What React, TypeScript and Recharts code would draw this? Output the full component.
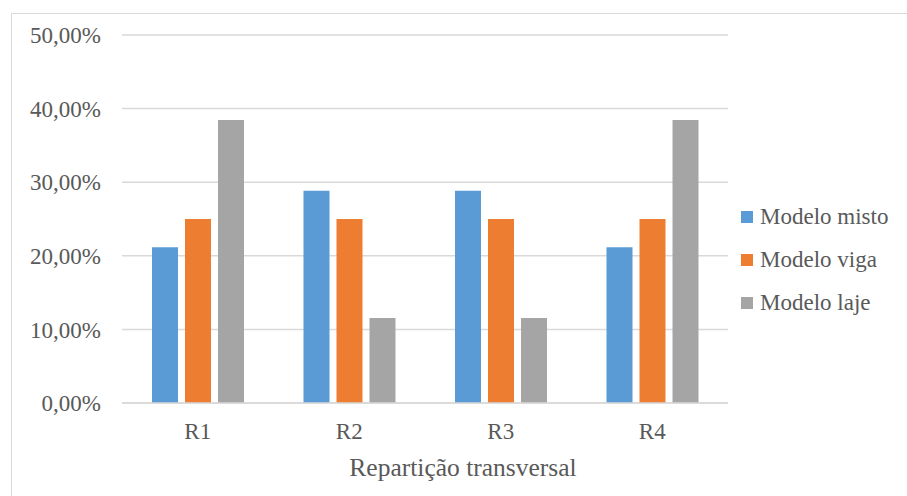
import { BarChart, Bar, XAxis, YAxis, CartesianGrid, Legend } from "recharts";

const categories = ["R1", "R2", "R3", "R4"];
const modeloMisto = [0.2115, 0.2885, 0.2885, 0.2115];
const modeloViga = [0.25, 0.25, 0.25, 0.25];
const modeloLaje = [0.3846, 0.1154, 0.1154, 0.3846];
const yTicks = [0, 0.1, 0.2, 0.3, 0.4, 0.5];

const series = [
  { key: "misto", name: "Modelo misto", color: "#5B9BD5" },
  { key: "viga", name: "Modelo viga", color: "#ED7D31" },
  { key: "laje", name: "Modelo laje", color: "#A5A5A5" },
];

const data = categories.map((c, i) => ({
  cat: c,
  misto: modeloMisto[i],
  viga: modeloViga[i],
  laje: modeloLaje[i],
}));

const font = "'Liberation Serif', 'Times New Roman', serif";
const textColor = "#595959";

const fmt = (v: number) => (v * 100).toFixed(2).replace(".", ",") + "%";

function LegendBox() {
  return (
    <div style={{ fontFamily: font, color: textColor, fontSize: 23, lineHeight: 1 }}>
      {series.map((s) => (
        <div key={s.key} style={{ display: "flex", alignItems: "center", height: 43 }}>
          <span style={{ width: 12, height: 12, background: s.color, marginRight: 7, display: "inline-block" }} />
          <span>{s.name}</span>
        </div>
      ))}
    </div>
  );
}

export default function App() {
  return (
    <div style={{ position: "absolute", left: 0, top: 0, width: 907, height: 496, overflow: "hidden", background: "#fff", fontFamily: font }}>
      <div
        style={{
          position: "absolute",
          left: 11,
          top: 13,
          width: 1000,
          height: 600,
          border: "1px solid #D9D9D9",
        }}
      />
      <div style={{ position: "absolute", left: 0, top: 0 }}>
        <BarChart
          width={907}
          height={496}
          data={data}
          margin={{ top: 35, right: 179, bottom: 63, left: 0 }}
          barSize={26}
          barGap={7}
        >
          <CartesianGrid vertical={false} stroke="#D9D9D9" strokeWidth={1.5} />
          <XAxis
            dataKey="cat"
            height={30}
            tickLine={false}
            axisLine={{ stroke: "#D9D9D9", strokeWidth: 1.5 }}
            tick={{ fill: textColor, fontFamily: font, fontSize: 23 }}
            tickMargin={14}
            label={{
              value: "Repartição transversal",
              position: "insideBottom",
              offset: -43,
              dx: 38,
              fill: textColor,
              fontFamily: font,
              fontSize: 25.5,
            }}
          />
          <YAxis
            width={122}
            domain={[0, 0.5]}
            ticks={yTicks}
            tickFormatter={fmt}
            tickLine={false}
            axisLine={false}
            tick={{ fill: textColor, fontFamily: font, fontSize: 23 }}
            tickMargin={15}
          />
          <Legend
            layout="vertical"
            verticalAlign="middle"
            align="center"
            content={<LegendBox />}
            wrapperStyle={{ position: "absolute", left: 741, top: 195, width: 166 }}
          />
          {series.map((s) => (
            <Bar key={s.key} dataKey={s.key} name={s.name} fill={s.color} isAnimationActive={false} />
          ))}
        </BarChart>
      </div>
    </div>
  );
}
